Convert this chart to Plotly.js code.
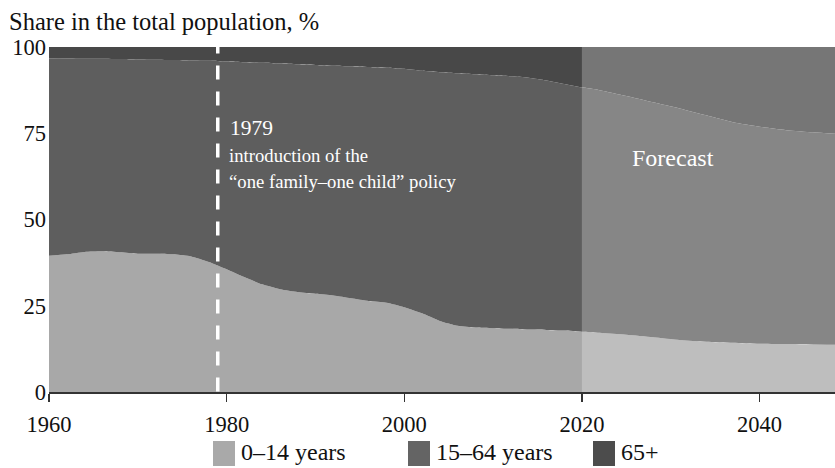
<!DOCTYPE html>
<html>
<head>
<meta charset="utf-8">
<script src="https://cdn.plot.ly/plotly-3.0.1.min.js"></script>
<style>html,body{margin:0;padding:0;background:#fff;}#chart{width:835px;height:468px;}</style>
</head>
<body>
<div id="chart"></div>
<script>
// Years
var years = [1960,1962,1964,1966,1968,1970,1972,1974,1976,1978,1980,1982,1984,1986,1988,1990,1992,1994,1996,1998,2000,2002,2004,2006,2008,2010,2012,2014,2016,2018,2020,2022,2025,2028,2031,2034,2037,2040,2043,2046,2049];
// Share of 0–14 years, %
var share0to14 = [39.5,39.9,40.6,40.8,40.5,40.1,40.1,39.9,39.3,37.7,35.6,33.3,31.2,29.8,29.0,28.5,28.0,27.2,26.4,25.9,24.6,22.8,20.6,19.2,18.7,18.5,18.3,18.1,18.0,17.8,17.5,17.2,16.6,15.9,15.1,14.6,14.3,14.0,13.9,13.8,13.7];
// Share of 15–64 years, %
var share15to64 = [57.2,56.8,56.0,55.8,56.0,56.3,56.2,56.3,56.8,58.3,60.2,62.3,64.2,65.4,66.0,66.3,66.6,67.2,67.8,68.1,69.1,70.3,72.1,73.2,73.4,73.3,73.2,73.0,72.3,71.5,70.8,70.3,69.2,68.1,67.1,65.6,63.9,62.9,62.0,61.5,61.1];
// Share of 65+, %
var share65plus = [3.3,3.3,3.4,3.4,3.5,3.6,3.7,3.8,3.9,4.0,4.2,4.4,4.6,4.8,5.0,5.2,5.4,5.6,5.8,6.0,6.3,6.9,7.3,7.6,7.9,8.2,8.5,8.9,9.7,10.7,11.7,12.5,14.2,16.0,17.8,19.8,21.8,23.1,24.1,24.7,25.2];

var seriesNames = ["0–14 years", "15–64 years", "65+"];
var seriesColors = ["#a8a8a8", "#5e5e5e", "#484848"];
var legendColors = ["#a9a9a9", "#646464", "#4c4c4c"];
var xTickVals = [1960, 1980, 2000, 2020, 2040];
var yTickVals = [0, 25, 50, 75, 100];
var policyYear = 1979;
var forecastStart = 2020;
var xRange = [1960, 2048.5];

var serif = "'Liberation Serif', 'Times New Roman', serif";
var seriesValues = [share0to14, share15to64, share65plus];

var traces = seriesValues.map(function (vals, i) {
  return {
    type: "scatter",
    mode: "lines",
    x: years,
    y: vals,
    name: seriesNames[i],
    stackgroup: "pop",
    line: {width: 0, shape: "spline", smoothing: 0.6, color: seriesColors[i]},
    fillcolor: seriesColors[i],
    showlegend: false,
    hoverinfo: "skip"
  };
});

var shapes = [
  {type: "rect", xref: "x", yref: "y", x0: forecastStart, x1: xRange[1], y0: 0, y1: 100,
   fillcolor: "rgba(255,255,255,0.25)", line: {width: 0}, layer: "above"},
  {type: "line", xref: "x", yref: "y", x0: policyYear, x1: policyYear, y0: 102.2, y1: 0,
   line: {color: "#ffffff", width: 3.5, dash: "14px,12px"}, layer: "above"}
];

var annotations = [
  {xref: "x", yref: "y", x: policyYear, xshift: 10, y: 76.6, xanchor: "left", yanchor: "middle",
   text: "1979", showarrow: false, font: {family: serif, size: 21.5, color: "#ffffff"}},
  {xref: "x", yref: "y", x: policyYear, xshift: 9, y: 68.6, xanchor: "left", yanchor: "middle",
   text: "introduction of the", showarrow: false, font: {family: serif, size: 18.7, color: "#ffffff"}},
  {xref: "x", yref: "y", x: policyYear, xshift: 9, y: 61.0, xanchor: "left", yanchor: "middle",
   text: "“one family–one child” policy", showarrow: false, font: {family: serif, size: 18.7, color: "#ffffff"}},
  {xref: "x", yref: "y", x: 2030.3, y: 67.8, xanchor: "center", yanchor: "middle",
   text: "Forecast", showarrow: false, font: {family: serif, size: 24, color: "#ffffff"}}
];

// Legend drawn as swatches + labels below the plot
var legendX = [213, 408, 593];
seriesNames.forEach(function (name, i) {
  shapes.push({type: "rect", xref: "paper", yref: "paper",
    x0: (legendX[i] - 49) / 786, x1: (legendX[i] + 22 - 49) / 786,
    y0: -(441 - 392) / 345, y1: -(466 - 392) / 345,
    fillcolor: legendColors[i], line: {width: 0}});
  annotations.push({xref: "paper", yref: "paper",
    x: (legendX[i] + 26 - 49) / 786, y: -(452 - 392) / 345, xanchor: "left", yanchor: "middle",
    text: name, showarrow: false, font: {family: serif, size: 24, color: "#111111"}});
});

var layout = {
  width: 835, height: 468,
  margin: {l: 49, r: 0, t: 47, b: 76, pad: 0},
  paper_bgcolor: "#ffffff", plot_bgcolor: "#ffffff",
  showlegend: false,
  title: {text: "Share in the total population, %", xref: "container", yref: "container",
          x: 9 / 835, xanchor: "left", y: 1 - 21 / 468, yanchor: "middle",
          font: {family: serif, size: 24.5, color: "#111111"}},
  xaxis: {range: xRange, tickvals: xTickVals, ticks: "outside", ticklen: 8, tickwidth: 1.5,
          tickcolor: "#333333", showline: true, linecolor: "#333333", linewidth: 1.5,
          showgrid: false, zeroline: false, fixedrange: true, ticklabelstandoff: 3,
          tickfont: {family: serif, size: 22.5, color: "#111111"}},
  yaxis: {range: [0, 100], tickvals: yTickVals, ticks: "", showline: false, showgrid: false,
          zeroline: false, fixedrange: true, ticklabelstandoff: 2,
          tickfont: {family: serif, size: 22.5, color: "#111111"}},
  shapes: shapes,
  annotations: annotations
};

Plotly.newPlot("chart", traces, layout, {displayModeBar: false, staticPlot: true});
</script>
</body>
</html>
